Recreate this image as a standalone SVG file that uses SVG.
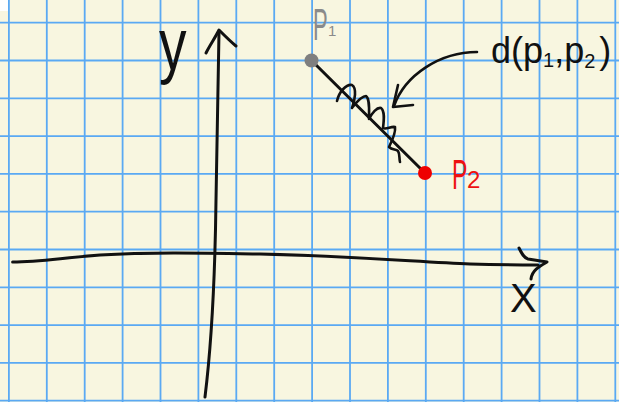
<svg xmlns="http://www.w3.org/2000/svg" width="619" height="402" viewBox="0 0 619 402">
<style>
.grid{stroke:#5aa9f3;stroke-width:1.8;fill:none}
.ink{stroke:#111;stroke-width:3;fill:none;stroke-linecap:round;stroke-linejoin:round}
.thin{stroke-width:2.6}
.hand{font-family:"Liberation Sans",Arial,sans-serif;font-weight:normal}
</style>
<rect width="619" height="402" fill="#f8f6e0"/>
<rect x="0" y="0" width="9" height="11" fill="#ffffff"/>
<g id="grid">
<path class="grid" d="M8.9,0V402M46.8,0V402M84.7,0V402M122.6,0V402M160.5,0V402M198.4,0V402M236.3,0V402M274.2,0V402M312.1,0V402M350,0V402M387.9,0V402M425.8,0V402M463.7,0V402M501.6,0V402M539.5,0V402M577.4,0V402M615.3,0V402"/>
<path class="grid" d="M0,22.7H619M0,60.5H619M0,98.3H619M0,136.1H619M0,173.9H619M0,211.7H619M0,249.5H619M0,287.3H619M0,325.1H619M0,362.9H619M0,400.7H619"/>
</g>
<g id="y-axis">
<path class="ink" d="M205,397 C212,340 215,280 216,200 C217,120 219,60 219,32"/>
<path class="ink" d="M206,53 C210,45 215,38 219,30 C225,36 231,42 236,46"/>
<text class="hand" transform="translate(159,70) scale(1.25,1.7)" x="0" y="0" font-size="44" fill="#111">y</text>
</g>
<g id="x-axis">
<path class="ink" d="M12.6,262 C40,262 60,258 100,255 C150,252 200,253 260,254 C350,256 420,262 470,264 C500,265 520,265 538,265"/>
<path class="ink" d="M519,248 C522,254 524,258 528,259 L547,262 C540,266 532,270 531,279"/>
<text class="hand" x="510" y="312" font-size="40" fill="#111">X</text>
</g>
<g id="connectors">
<path class="ink" d="M311,60 L425,173"/>
<path class="ink thin" d="M337,101 C339,92 346,84 352,85 C357,88 355,100 352,108 C356,103 361,96 366,96 C370,99 369,110 369,119 C372,113 377,107 381,108 C385,111 384,120 383,128 C386,130 391,126 395,127 C396,133 392,141 389,147 C392,150 396,149 398,151 C400,154 399,158 400,162"/>
<path class="ink thin" d="M477,52 C440,52 405,75 394,106"/>
<path class="ink thin" d="M398,85 L393,107 L413,105"/>
</g>
<g id="p1">
<circle cx="311.5" cy="60.5" r="7" fill="#7f7f7f"/>
<text class="hand" transform="translate(313,40) scale(0.5,1)" x="0" y="0" font-size="44" fill="#8a8a8a">P</text>
<text class="hand" x="328" y="36" font-size="15" fill="#8a8a8a">1</text>
</g>
<g id="p2">
<circle cx="425" cy="173" r="7" fill="#ee0000"/>
<text class="hand" transform="translate(452,189) scale(0.55,1)" x="0" y="0" font-size="42" fill="#ee1111">P</text>
<text class="hand" x="467" y="188" font-size="24" fill="#ee1111">2</text>
</g>
<g id="distance-label">
<text class="hand" x="491" y="63" font-size="36" fill="#111">d(p<tspan font-size="20" dy="4">1</tspan><tspan dy="-4">,p</tspan><tspan font-size="20" dy="5">2</tspan><tspan dy="-5" dx="4">)</tspan></text>
</g>
</svg>
